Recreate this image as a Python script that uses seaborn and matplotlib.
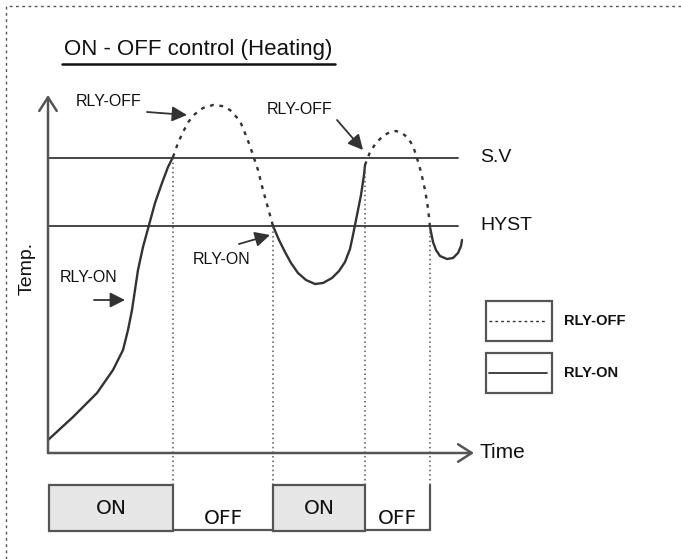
import numpy as np
import pandas as pd
import seaborn as sns
import matplotlib.pyplot as plt
from matplotlib.patches import Rectangle

# temperature curve (time, temperature in arbitrary units)
on1_t = [0, 25, 49, 65, 75, 80, 84, 87, 90, 95, 101, 107, 114, 120, 125]
on1_T = [13, 36, 60, 83, 103, 123, 143, 163, 183, 206, 228, 250, 270, 286, 296]
off1_t = [125, 130, 135, 141, 147, 155, 165, 174, 182, 192, 199, 204, 210, 215, 220, 225]
off1_T = [296, 310, 321, 332, 339, 345, 348, 347, 343, 332, 315, 301, 283, 263, 245, 227]
on2_t = [225, 231, 237, 243, 250, 258, 267, 275, 284, 291, 297, 302, 305, 309, 313, 316, 317]
on2_T = [227, 213, 201, 190, 180, 173, 169, 170, 175, 182, 191, 204, 218, 238, 258, 278, 288]
off2_t = [317, 322, 328, 335, 342, 348, 354, 360, 365, 369, 373, 377, 380, 382]
off2_T = [288, 301, 310, 317, 321, 322, 320, 315, 307, 295, 281, 263, 245, 226]
on3_t = [382, 385, 388, 392, 399, 405, 410, 413, 414]
on3_T = [226, 211, 203, 197, 194, 195, 200, 207, 213]

setpoint = 295
hyst = 227
t_end = 410
switch_t = [125, 225, 317, 382]
switch_T = [296, 227, 288, 226]
relay_states = ["ON", "OFF", "ON", "OFF"]

sns.set_theme(style="white")
plt.rcParams["font.family"] = ["Liberation Sans", "DejaVu Sans"]

INK = "#333333"
AX = "#555555"

segments = [("ON", on1_t, on1_T), ("OFF", off1_t, off1_T), ("ON", on2_t, on2_T),
            ("OFF", off2_t, off2_T), ("ON", on3_t, on3_T)]
rows = []
for k, (state, ts, Ts) in enumerate(segments):
    for t, T in zip(ts, Ts):
        rows.append({"t": t, "T": T, "relay": state, "seg": k})
curve = pd.DataFrame(rows)

fig = plt.figure(figsize=(6.81, 5.59), dpi=100)
ax = fig.add_axes([0, 0, 1, 1])
ax.set_xlim(-48, 633)
ax.set_ylim(-106, 453)
ax.axis("off")

# dashed frame
ax.plot([-42, -42, 633], [-106, 447, 447], color=AX, lw=1, ls=(0, (2, 2.5)), clip_on=False)

# title
ax.text(150, 403, "ON - OFF control (Heating)", ha="center", va="center",
        fontsize=16, color="#111111")
ax.plot([14, 287], [389, 389], color="#111111", lw=1.8)

# axes with arrow heads
ax.annotate("", xy=(0, 358), xytext=(0, 0),
            arrowprops=dict(arrowstyle="->,head_length=0.7,head_width=0.45", color=AX, lw=1.8,
                            shrinkA=0, shrinkB=0, mutation_scale=14))
ax.annotate("", xy=(426, 0), xytext=(0, 0),
            arrowprops=dict(arrowstyle="->,head_length=0.7,head_width=0.45", color=AX, lw=1.8,
                            shrinkA=0, shrinkB=0, mutation_scale=14))
ax.text(432, 0, "Time", ha="left", va="center", fontsize=15, color="#111111")
ax.text(-21, 185, "Temp.", ha="center", va="center", rotation=90, fontsize=14, color="#111111")

# set value and hysteresis
ax.plot([0, t_end], [setpoint, setpoint], color="#444444", lw=1.4)
ax.plot([0, t_end], [hyst, hyst], color="#444444", lw=1.4)
ax.text(432, setpoint, "S.V", ha="left", va="center", fontsize=14, color="#111111")
ax.text(432, hyst, "HYST", ha="left", va="center", fontsize=14, color="#111111")

# temperature curve
sns.lineplot(data=curve, x="t", y="T", style="relay", units="seg", estimator=None,
             sort=False, dashes={"ON": "", "OFF": (1.6, 2.4)}, color=INK, lw=1.7,
             legend=False, ax=ax)

# switch markers
box_top, box_bot = -32, -78
ax.vlines(switch_t, box_top, switch_T, colors=AX, lw=1.1, linestyles=(0, (1, 2)))

# relay state boxes
edges = [1] + switch_t
for i, state in enumerate(relay_states):
    x0, x1 = edges[i], edges[i + 1]
    if state == "ON":
        ax.add_patch(Rectangle((x0, box_bot), x1 - x0, box_top - box_bot,
                               facecolor="#e6e6e6", edgecolor=AX, lw=1.6, zorder=3))
        ax.text((x0 + x1) / 2, -56, state, ha="center", va="center", fontsize=14.5,
                family="DejaVu Sans", color="#111111", zorder=4)
    else:
        ax.plot([x0, x1], [box_bot + 1, box_bot + 1], color=AX, lw=1.6)
        ax.text((x0 + x1) / 2, -66, state, ha="center", va="center", fontsize=14.5,
                family="DejaVu Sans", color="#111111")
ax.plot([edges[-1], edges[-1]], [box_top, box_bot + 1], color=AX, lw=1.6)

# relay annotations
arrow = dict(arrowstyle="-|>,head_length=0.75,head_width=0.38", color=INK, lw=1.3,
             shrinkA=0, shrinkB=0)
ax.text(61, 351, "RLY-OFF", ha="center", va="center", fontsize=11.5, color="#111111")
ax.annotate("", xy=(139, 338), xytext=(99, 341), arrowprops=arrow)
ax.text(252, 343, "RLY-OFF", ha="center", va="center", fontsize=11.5, color="#111111")
ax.annotate("", xy=(315, 303), xytext=(289, 333), arrowprops=arrow)
ax.text(174, 193, "RLY-ON", ha="center", va="center", fontsize=11.5, color="#111111")
ax.annotate("", xy=(222, 218), xytext=(191, 209), arrowprops=arrow)
ax.text(41, 175, "RLY-ON", ha="center", va="center", fontsize=11.5, color="#111111")
ax.annotate("", xy=(77, 153), xytext=(46, 153), arrowprops=arrow)

# key
for top, state, dash in [(152, "RLY-OFF", (0, (2, 2.2))), (100, "RLY-ON", "-")]:
    ax.add_patch(Rectangle((438, top - 40), 66, 40, facecolor="none", edgecolor=AX, lw=1.6))
    ax.plot([441, 499], [top - 20, top - 20], color=INK, lw=1.3 if dash == "-" else 1.0, ls=dash)
    ax.text(516, top - 20, state, ha="left", va="center", fontsize=10.5, fontweight="bold",
            color="#111111")

fig.savefig("out.png", dpi=100)
